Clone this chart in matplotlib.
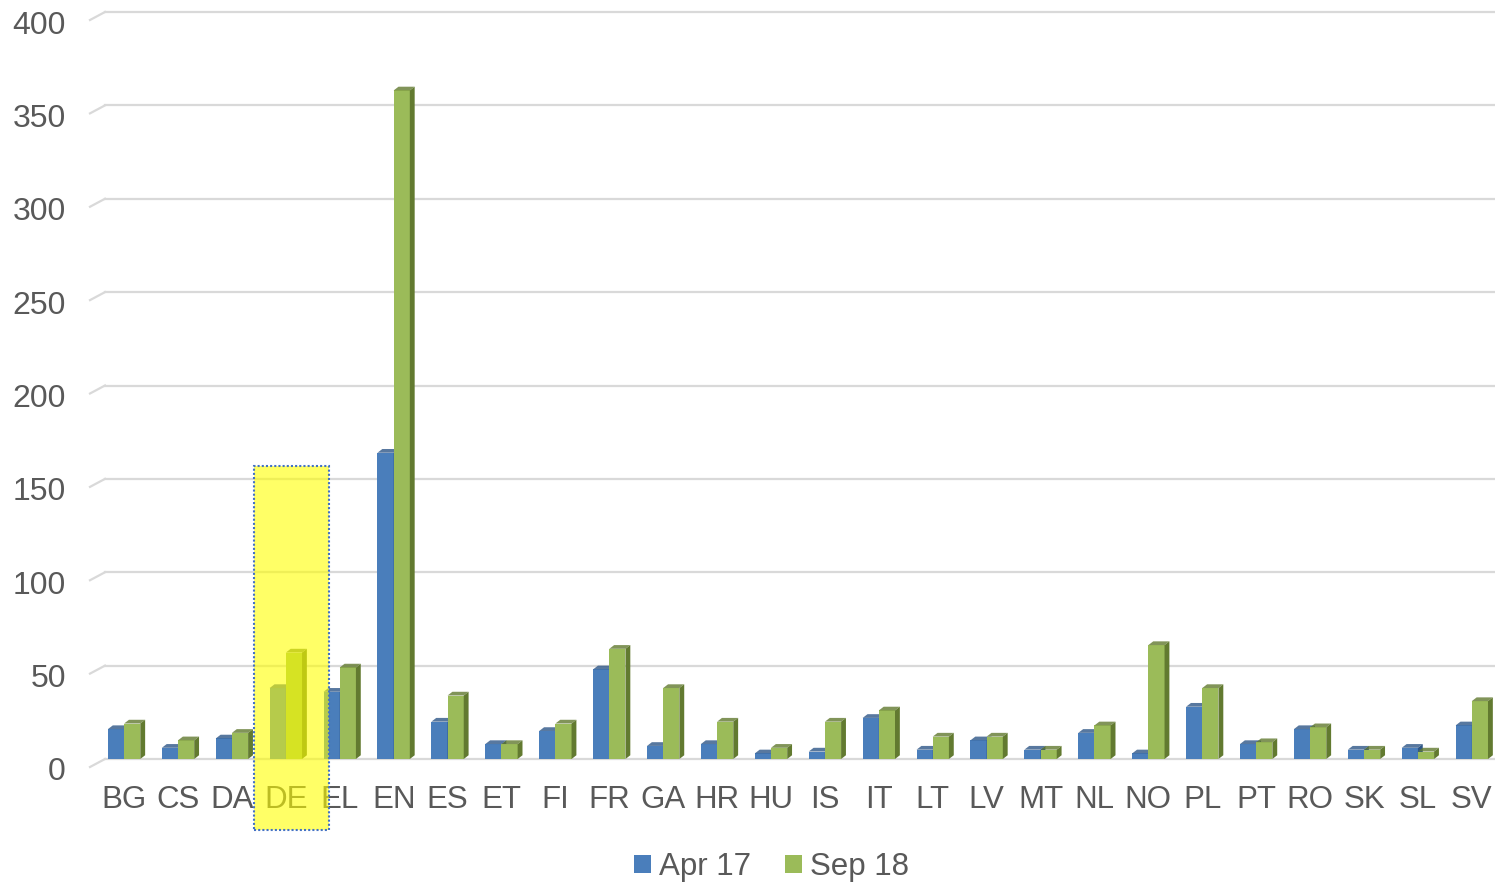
import matplotlib.pyplot as plt
import matplotlib.transforms as mtransforms
from matplotlib.patches import Polygon, Rectangle
import numpy as np

plt.rcParams['font.family'] = ['Liberation Sans', 'DejaVu Sans']

# data
langs = ['BG', 'CS', 'DA', 'DE', 'EL', 'EN', 'ES', 'ET', 'FI', 'FR', 'GA', 'HR', 'HU',
         'IS', 'IT', 'LT', 'LV', 'MT', 'NL', 'NO', 'PL', 'PT', 'RO', 'SK', 'SL', 'SV']
apr17 = [16, 6, 11, 38, 36, 164, 20, 8, 15, 48, 7, 8, 3,
         4, 22, 5, 10, 5, 14, 3, 28, 8, 16, 5, 6, 18]
sep18 = [19, 10, 14, 57, 49, 358, 34, 8, 19, 59, 38, 20, 6,
         20, 26, 12, 12, 5, 18, 61, 38, 9, 17, 5, 4, 31]
yticks = [0, 50, 100, 150, 200, 250, 300, 350, 400]
highlight = 'DE'

blue, blue_dark = '#4a7ebb', '#2e5687'
green, green_dark = '#9bbb59', '#627a30'
text_col = '#595959'
grid_col = '#d9d9d9'

fig = plt.figure(figsize=(14.95, 8.82), dpi=100)
ax = fig.add_axes([95 / 1495, 123 / 882, 1400 / 1495, 747 / 882])

x = np.arange(len(langs))
w = 0.3
dx, dy = 0.09, 2.0  # fake 3D depth


def bars_3d(xs, vals, face, side):
    bars = ax.bar(xs, vals, w, color=face, zorder=3, linewidth=0)
    for b in bars:
        x0, h = b.get_x(), b.get_height()
        x1 = x0 + b.get_width()
        ax.add_patch(Polygon([(x1, 0), (x1 + dx, dy), (x1 + dx, h + dy), (x1, h)],
                             closed=True, color=side, zorder=3, lw=0))
        ax.add_patch(Polygon([(x0, h), (x0 + dx, h + dy), (x1 + dx, h + dy), (x1, h)],
                             closed=True, color=side, zorder=3, lw=0, alpha=0.8))
    return bars


b1 = bars_3d(x - w / 2, apr17, blue, blue_dark)
b2 = bars_3d(x + w / 2, sep18, green, green_dark)

ax.set_xlim(-0.54, len(langs) - 1 + 0.43)
ax.set_ylim(0, 400)
ax.set_xticks(x)
ax.set_xticklabels(langs)
ax.set_yticks(yticks)
ax.tick_params(length=0, labelcolor=text_col)
ax.tick_params(axis='x', pad=19, labelsize=22.5)
ax.tick_params(axis='y', pad=21, labelsize=23)
shift = mtransforms.ScaledTranslation(0, -10 / 100, fig.dpi_scale_trans)
for lbl in ax.get_yticklabels():
    lbl.set_transform(lbl.get_transform() + shift)
for s in ax.spines.values():
    s.set_visible(False)

# gridlines with the little perspective stub on the left
blend = mtransforms.blended_transform_factory(ax.transAxes, ax.transData)
stub = 8 / (747 / 400)
for v in yticks:
    ax.plot([10 / 1400, 1], [v, v], transform=blend, color=grid_col, lw=1.6, zorder=1, clip_on=False)
    ax.plot([-5 / 1400, 10 / 1400], [v - stub, v], transform=blend, color=grid_col, lw=1.6,
            zorder=1, clip_on=False)

# yellow highlight box over DE
i = langs.index(highlight)
ax.add_patch(Rectangle((i - 0.59, -38), 1.39, 195, facecolor='#ffff00', alpha=0.6,
                       edgecolor='none', zorder=10, clip_on=False))
ax.add_patch(Rectangle((i - 0.59, -38), 1.39, 195, facecolor='none', edgecolor='#4472c4',
                       lw=1.5, ls=(0, (1, 1)), zorder=11, clip_on=False))

fig.legend([b1, b2], ['Apr 17', 'Sep 18'], loc='center', bbox_to_anchor=(0.516, 0.017),
           ncol=2, frameon=False, fontsize=22.5, handlelength=0.55, handleheight=0.55,
           handletextpad=0.25, columnspacing=1.1, labelcolor=text_col)

fig.savefig('out.png', dpi=100)
